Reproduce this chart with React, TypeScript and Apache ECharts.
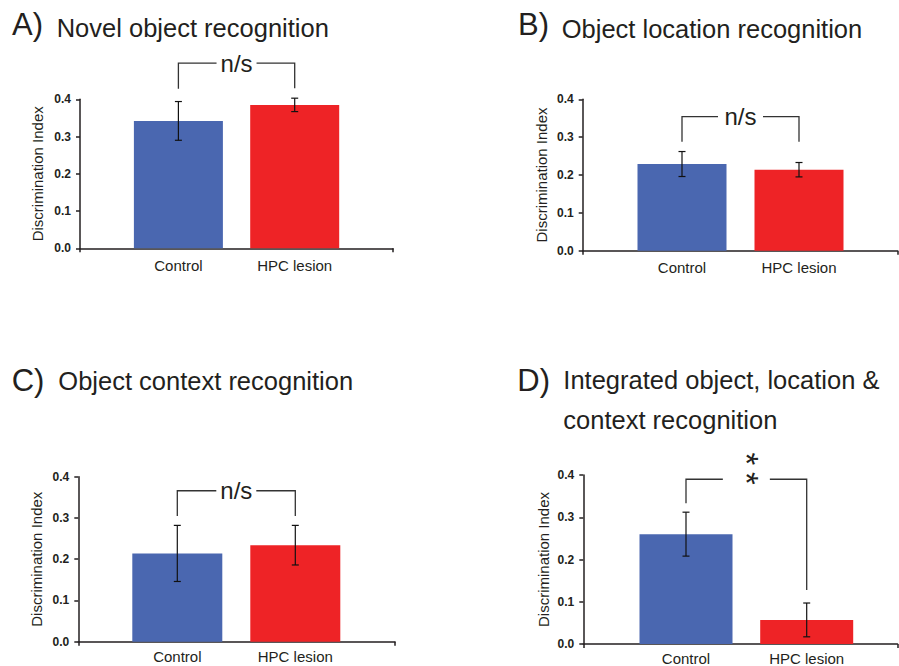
import React, { useEffect, useRef } from 'react';
import * as echarts from 'echarts';

// ---------- data ----------
const categories = ['Control', 'HPC lesion'];
const yAxisName = 'Discrimination Index';
const yMin = 0;
const yMax = 0.4;
const yStep = 0.1;

const panelLetters = ['A)', 'B)', 'C)', 'D)'];
const panelTitles = [
  'Novel object recognition',
  'Object location recognition',
  'Object context recognition',
  'Integrated object, location &\ncontext recognition',
];

const meansA = [0.342, 0.385];
const errA = [0.052, 0.018];
const meansB = [0.229, 0.214];
const errB = [0.033, 0.019];
const meansC = [0.214, 0.234];
const errC = [0.068, 0.048];
const meansD = [0.26, 0.057];
const errD = [0.052, 0.04];

// bracket: [left leg bottom, right leg bottom, bracket top]
const bracketA = [0.428, 0.43, 0.497];
const bracketB = [0.288, 0.288, 0.354];
const bracketC = [0.305, 0.305, 0.366];
const bracketD = [0.333, 0.128, 0.39];
const sigLabels = ['n/s', 'n/s', 'n/s', '*\u2009*'];

const allMeans = [meansA, meansB, meansC, meansD];
const allErrs = [errA, errB, errC, errD];
const allBrackets = [bracketA, bracketB, bracketC, bracketD];

// ---------- layout / style ----------
const FONT = '"Liberation Sans", Arial, Helvetica, sans-serif';
const INK = '#231f20';
const BAR_COLORS = ['#4a67b0', '#ee2326'];

const layout = [
  { axisLeft: 80, axisRight: 393, top: 99.3, bottom: 248.3, center0: 178.4, band: 116.3, barWidth: 89, nameGap: 35.5, labelMargin: 9.5, gap: 20, sigSize: 24, stacked: false, sigDx: 0, sigDy: 0, letter: [12, 24], title: [56.7, 27.7] },
  { axisLeft: 582.7, axisRight: 897.5, top: 99.3, bottom: 250.7, center0: 682, band: 117, barWidth: 89, nameGap: 33.5, labelMargin: 9.5, gap: 22.5, sigSize: 24, stacked: false, sigDx: 0, sigDy: 0, letter: [518, 24.5], title: [561.7, 28.5] },
  { axisLeft: 78.3, axisRight: 395, top: 476.7, bottom: 641.7, center0: 177.3, band: 118, barWidth: 90, nameGap: 34, labelMargin: 7, gap: 20, sigSize: 24, stacked: false, sigDx: 0, sigDy: 0, letter: [11.7, 380.5], title: [58.3, 380.5] },
  { axisLeft: 583.3, axisRight: 897.5, top: 475, bottom: 644, center0: 686, band: 120.7, barWidth: 93, nameGap: 32.5, labelMargin: 6.5, gap: 23.5, sigSize: 33, stacked: true, sigDx: 0, sigDy: -10.5, letter: [517.3, 380], title: [563.3, 400] },
];

function buildOption() {
  const grid: any[] = [];
  const xAxis: any[] = [];
  const yAxis: any[] = [];
  const series: any[] = [];
  const graphic: any[] = [];

  layout.forEach((L, p) => {
    const h = L.bottom - L.top;
    grid.push({ left: L.axisLeft, top: L.top, width: L.axisRight - L.axisLeft, height: h, containLabel: false });
    const barLeft = L.center0 - L.band / 2;
    grid.push({ left: barLeft, top: L.top, width: L.band * 2, height: h, containLabel: false });

    const gA = 2 * p;
    const gB = 2 * p + 1;

    xAxis.push({
      gridIndex: gA,
      type: 'value',
      min: 0,
      max: 1,
      interval: 1,
      axisLine: { show: true, lineStyle: { color: INK, width: 1.5 } },
      axisTick: { show: true, length: 4, lineStyle: { color: INK, width: 1.5 } },
      axisLabel: { show: false },
      splitLine: { show: false },
    });
    yAxis.push({
      gridIndex: gA,
      type: 'value',
      min: yMin,
      max: yMax,
      interval: yStep,
      name: yAxisName,
      nameLocation: 'middle',
      nameGap: L.nameGap,
      nameTextStyle: { fontFamily: FONT, fontSize: 15, color: INK },
      axisLine: { show: true, lineStyle: { color: INK, width: 1.5 } },
      axisTick: { show: true, length: 4, lineStyle: { color: INK, width: 1.5 } },
      axisLabel: {
        margin: 9,
        fontFamily: FONT,
        fontSize: 12,
        fontWeight: 'bold',
        color: INK,
        formatter: (v: number) => v.toFixed(1),
      },
      splitLine: { show: false },
    });

    xAxis.push({
      gridIndex: gB,
      type: 'category',
      data: categories,
      axisLine: { show: false },
      axisTick: { show: false },
      axisLabel: { margin: L.labelMargin, fontFamily: FONT, fontSize: 15, color: INK },
      splitLine: { show: false },
    });
    yAxis.push({ gridIndex: gB, type: 'value', min: yMin, max: yMax, show: false, splitLine: { show: false } });

    const means = allMeans[p];
    const errs = allErrs[p];
    const br = allBrackets[p];

    series.push({
      type: 'bar',
      xAxisIndex: gB,
      yAxisIndex: gB,
      barWidth: L.barWidth,
      z: 2,
      data: means.map((m, i) => ({ value: m, itemStyle: { color: BAR_COLORS[i] } })),
    });

    series.push({
      type: 'custom',
      xAxisIndex: gB,
      yAxisIndex: gB,
      clip: false,
      z: 5,
      data: means.map((m, i) => [i, m, m - errs[i], m + errs[i]]),
      renderItem: (params: any, api: any) => {
        const i = api.value(0);
        const lo = api.coord([i, api.value(2)]);
        const hi = api.coord([i, api.value(3)]);
        const x = lo[0];
        const cap = 3.5;
        const style = { stroke: '#111', lineWidth: 1.2 };
        return {
          type: 'group',
          children: [
            { type: 'line', shape: { x1: x, y1: lo[1], x2: x, y2: hi[1] }, style },
            { type: 'line', shape: { x1: x - cap, y1: lo[1], x2: x + cap, y2: lo[1] }, style },
            { type: 'line', shape: { x1: x - cap, y1: hi[1], x2: x + cap, y2: hi[1] }, style },
          ],
        };
      },
    });

    const label = sigLabels[p];
    series.push({
      type: 'custom',
      xAxisIndex: gB,
      yAxisIndex: gB,
      clip: false,
      z: 5,
      data: [[0, br[2], br[0], br[1], br[2]]],
      renderItem: (params: any, api: any) => {
        const lb = api.coord([0, api.value(2)]);
        const rb = api.coord([1, api.value(3)]);
        const lt = api.coord([0, api.value(4)]);
        const rt = api.coord([1, api.value(4)]);
        const xm = (lb[0] + rb[0]) / 2;
        const style = { stroke: '#333', lineWidth: 1.3, fill: null };
        const textEl: any = {
          type: 'text',
          x: xm + L.sigDx,
          y: lt[1] + L.sigDy,
          rotation: L.stacked ? -Math.PI / 2 : 0,
          style: {
            text: label,
            fill: INK,
            fontFamily: FONT,
            fontSize: L.sigSize,
            align: 'center',
            verticalAlign: 'middle',
          },
        };
        return {
          type: 'group',
          children: [
            { type: 'polyline', shape: { points: [[lb[0], lb[1]], [lt[0], lt[1]], [xm - L.gap, lt[1]]] }, style },
            { type: 'polyline', shape: { points: [[xm + L.gap, rt[1]], [rt[0], rt[1]], [rb[0], rb[1]]] }, style },
            textEl,
          ],
        };
      },
    });

    graphic.push({
      type: 'text',
      x: L.letter[0],
      y: L.letter[1],
      style: { text: panelLetters[p], fontFamily: FONT, fontSize: 31, fill: INK, align: 'left', verticalAlign: 'middle' },
    });
    graphic.push({
      type: 'text',
      x: L.title[0],
      y: L.title[1],
      style: {
        text: panelTitles[p],
        fontFamily: FONT,
        fontSize: 25.5,
        lineHeight: 40,
        fill: INK,
        align: 'left',
        verticalAlign: 'middle',
      },
    });
  });

  return {
    animation: false,
    backgroundColor: '#ffffff',
    grid,
    xAxis,
    yAxis,
    series,
    graphic,
  };
}

export default function App() {
  const ref = useRef<HTMLDivElement>(null);
  useEffect(() => {
    if (!ref.current) return;
    const chart = echarts.init(ref.current, null, { renderer: 'svg' });
    chart.setOption(buildOption() as any);
    return () => chart.dispose();
  }, []);
  return (
    <div
      ref={ref}
      style={{ position: 'absolute', left: 0, top: 0, width: 899, height: 666, background: '#fff' }}
    />
  );
}
